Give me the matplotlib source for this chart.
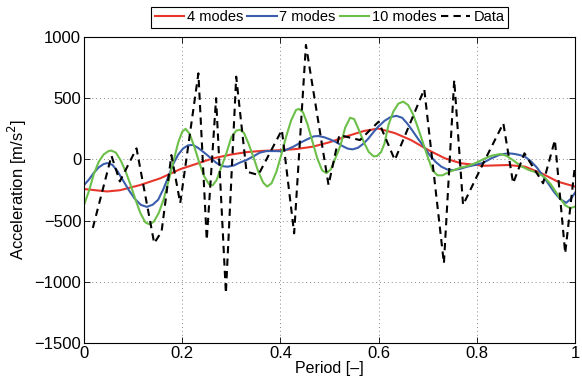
import matplotlib

matplotlib.use("Agg")
import matplotlib.pyplot as plt

plt.rcParams["font.family"] = ["Liberation Sans", "DejaVu Sans"]

# values
red_x = [0.0, 0.047, 0.073, 0.114, 0.155, 0.196, 0.230, 0.263, 0.300, 0.332, 0.365, 0.399,
         0.433, 0.466, 0.500, 0.536, 0.570, 0.599, 0.633, 0.666, 0.701, 0.735, 0.768, 0.813,
         0.864, 0.898, 0.932, 0.965, 1.0]
red_y = [-242, -262, -252, -210, -155, -80, -35, 9, 40, 60, 70, 75,
         85, 104, 140, 190, 232, 252, 215, 158, 77, 9, -32, -52,
         -46, -59, -114, -182, -222]

blue_x = [0.0, 0.010, 0.020, 0.030, 0.040, 0.048, 0.058, 0.068, 0.080, 0.092, 0.104, 0.116,
          0.128, 0.140, 0.151, 0.162, 0.172, 0.182, 0.192, 0.202, 0.212, 0.222, 0.232, 0.245,
          0.257, 0.270, 0.282, 0.292, 0.305, 0.318, 0.331, 0.345, 0.358, 0.372, 0.386, 0.399,
          0.413, 0.427, 0.440, 0.455, 0.468, 0.477, 0.490, 0.503, 0.514, 0.527, 0.537, 0.547,
          0.558, 0.568, 0.578, 0.590, 0.600, 0.612, 0.624, 0.636, 0.648, 0.658, 0.668, 0.680,
          0.692, 0.704, 0.716, 0.728, 0.740, 0.752, 0.765, 0.780, 0.797, 0.813, 0.830, 0.847,
          0.864, 0.876, 0.888, 0.898, 0.910, 0.922, 0.934, 0.946, 0.958, 0.970, 0.982, 0.992,
          1.0]
blue_y = [-210, -165, -110, -65, -38, -30, -45, -95, -175, -255, -325, -372,
          -388, -370, -330, -240, -140, -35, 40, 90, 115, 118, 95, 55,
          15, -30, -55, -60, -50, -25, -5, 25, 55, 68, 68, 67,
          80, 105, 135, 165, 188, 191, 180, 160, 140, 108, 88, 82,
          95, 125, 165, 225, 270, 315, 345, 356, 340, 295, 240, 170,
          105, 35, -20, -60, -83, -88, -78, -60, -45, -28, 10, 38,
          50, 45, 35, 22, -15, -65, -130, -200, -270, -325, -355, -320,
          -272]

green_x = [0.0, 0.010, 0.020, 0.030, 0.040, 0.050, 0.056, 0.065, 0.075, 0.085, 0.095, 0.105,
           0.115, 0.125, 0.133, 0.142, 0.152, 0.162, 0.172, 0.182, 0.192, 0.200, 0.207, 0.215,
           0.225, 0.235, 0.245, 0.255, 0.262, 0.270, 0.280, 0.290, 0.300, 0.310, 0.318, 0.326,
           0.335, 0.345, 0.355, 0.365, 0.373, 0.382, 0.392, 0.402, 0.412, 0.422, 0.432, 0.438,
           0.446, 0.455, 0.465, 0.475, 0.485, 0.494, 0.503, 0.512, 0.522, 0.532, 0.542, 0.550,
           0.560, 0.570, 0.580, 0.590, 0.597, 0.605, 0.612, 0.620, 0.630, 0.640, 0.650, 0.660,
           0.670, 0.680, 0.690, 0.700, 0.710, 0.720, 0.730, 0.745, 0.765, 0.785, 0.800, 0.815,
           0.830, 0.848, 0.860, 0.875, 0.890, 0.905, 0.920, 0.935, 0.950, 0.960, 0.970, 0.980,
           0.990, 1.0]
green_y = [-373, -260, -120, -20, 40, 68, 72, 55, -10, -100, -210, -330,
           -440, -515, -530, -510, -440, -330, -180, -20, 140, 225, 250, 210,
           100, -30, -140, -205, -212, -170, -60, 50, 180, 235, 242, 215,
           130, 20, -100, -190, -222, -195, -100, 40, 190, 320, 405, 412,
           385, 290, 150, 10, -90, -112, -80, 10, 110, 260, 340, 330,
           240, 140, 60, 25, 28, 60, 130, 280, 390, 455, 472, 445,
           370, 260, 140, 20, -90, -130, -130, -100, -70, -50, -25, 5,
           30, 44, 30, -10, -55, -85, -105, -135, -200, -260, -320, -375,
           -398, -386]

data_x = [0.018, 0.056, 0.073, 0.107, 0.143, 0.158, 0.178, 0.196, 0.233, 0.250, 0.269, 0.289,
          0.310, 0.331, 0.355, 0.403, 0.428, 0.452, 0.498, 0.520, 0.562, 0.600, 0.633, 0.693,
          0.733, 0.754, 0.772, 0.813, 0.854, 0.874, 0.897, 0.935, 0.959, 0.980, 1.0]
data_y = [-560, 30, -180, 90, -685, -590, 35, -357, 703, -658, 500, -1094,
          676, -100, -127, 240, -604, 935, -209, 199, 158, 308, -5, 573,
          -849, 649, -372, -32, 295, -195, 50, -195, 158, -767, -45]

x_ticks = [0, 0.2, 0.4, 0.6, 0.8, 1]
x_labels = ["0", "0.2", "0.4", "0.6", "0.8", "1"]
y_ticks = [-1500, -1000, -500, 0, 500, 1000]

fig = plt.figure(figsize=(5.82, 3.85), dpi=100)
ax = fig.add_axes([0.1443, 0.1091, 0.8437, 0.7948])

ax.plot(red_x, red_y, color="#e8352b", linewidth=1.5, label="4 modes")
ax.plot(blue_x, blue_y, color="#3a5eac", linewidth=1.5, label="7 modes")
ax.plot(green_x, green_y, color="#6cc04a", linewidth=1.5, label="10 modes")
ax.plot(data_x, data_y, color="black", linewidth=1.5, linestyle=(0, (3.5, 2.5)), label="Data")

ax.set_xlim(0, 1)
ax.set_ylim(-1500, 1000)
ax.set_xticks(x_ticks)
ax.set_xticklabels(x_labels)
ax.set_yticks(y_ticks)
ax.tick_params(direction="in", length=4, width=0.6, top=True, right=True,
               labelsize=12, pad=2)
ax.grid(True, linestyle=(0, (1, 3)), color="#888888", linewidth=0.7)
for spine in ax.spines.values():
    spine.set_linewidth(0.8)

ax.set_xlabel("Period [–]", fontsize=11.5, labelpad=0)
ax.set_ylabel("Acceleration [m/s$^2$]", fontsize=12, labelpad=4)

leg = ax.legend(ncol=4, loc="lower center", bbox_to_anchor=(0.5, 1.03), fontsize=10.5,
                frameon=True, fancybox=False, edgecolor="black", framealpha=1,
                handlelength=2.0, handletextpad=0.2, columnspacing=0.3,
                borderpad=0.25, borderaxespad=0)
leg.get_frame().set_linewidth(0.8)

fig.savefig("out.png", dpi=100)
